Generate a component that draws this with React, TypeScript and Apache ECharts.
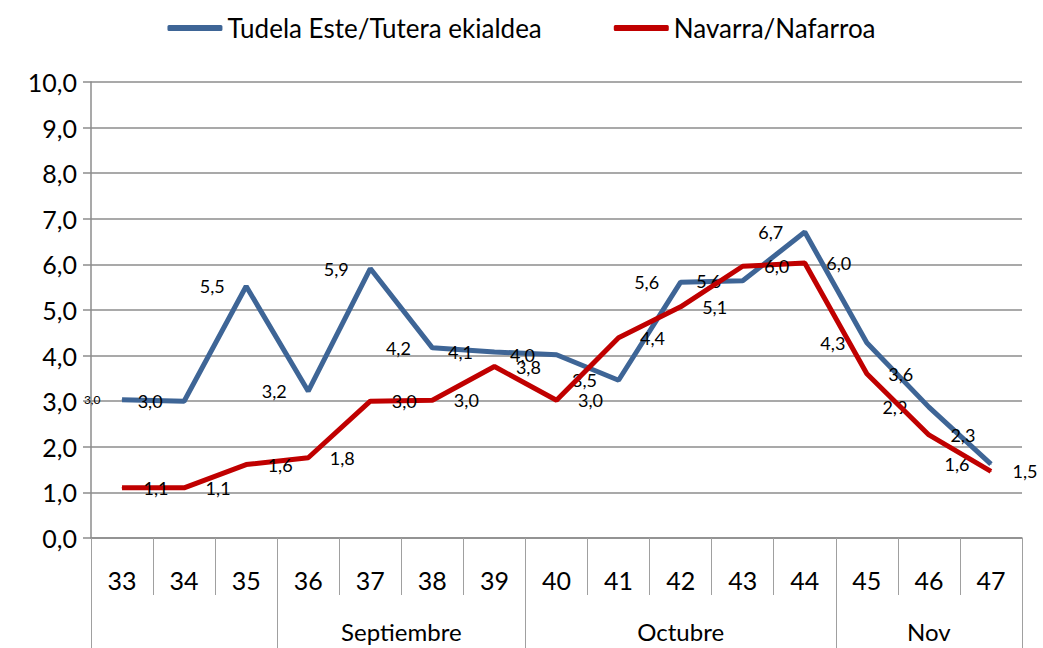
import React, { useEffect, useRef } from "react";
import * as echarts from "echarts";

const weeks = ["33", "34", "35", "36", "37", "38", "39", "40", "41", "42", "43", "44", "45", "46", "47"];
const tudela = [3.03, 3.0, 5.52, 3.22, 5.91, 4.17, 4.08, 4.02, 3.46, 5.61, 5.64, 6.71, 4.28, 2.87, 1.62];
const navarra = [1.1, 1.1, 1.61, 1.76, 3.0, 3.02, 3.76, 3.02, 4.39, 5.07, 5.96, 6.03, 3.6, 2.26, 1.46];
const monthNames = ["", "Septiembre", "Octubre", "Nov"];
const monthStarts = [0, 3, 7, 12, 15];
const yTicks = [0, 1, 2, 3, 4, 5, 6, 7, 8, 9, 10];

const FONT = "Lato";
const fmt = (v: number) => v.toFixed(1).replace(".", ",");

export default function App() {
  const ref = useRef<HTMLDivElement>(null);
  useEffect(() => {
    if (!ref.current) return;
    const chart = echarts.init(ref.current, null, { renderer: "svg" });
    const monthCenters = monthNames.map((_, i) => (monthStarts[i] + monthStarts[i + 1]) / 2);
    const blueData = tudela.map((v, i) => (i === 0 ? { value: v, label: { fontSize: 12 } } : v));
    chart.setOption({
      animation: false,
      textStyle: { fontFamily: FONT },
      legend: {
        top: 10,
        left: "center",
        icon: "roundRect",
        itemWidth: 55,
        itemHeight: 6,
        itemGap: 72,
        textStyle: { fontSize: 26, color: "#000", fontFamily: FONT },
        data: ["Tudela Este/Tutera ekialdea", "Navarra/Nafarroa"],
      },
      grid: { left: 91, right: 21, top: 82, bottom: 110, containLabel: false },
      xAxis: [
        {
          type: "category",
          data: weeks,
          boundaryGap: true,
          axisLine: { show: true, lineStyle: { color: "#8c8c8c", width: 1.5 } },
          axisTick: { show: true, interval: 0, length: 57, lineStyle: { color: "#a0a0a0" } },
          axisLabel: { interval: 0, margin: 29, fontSize: 25, color: "#000", fontFamily: FONT },
          splitLine: { show: false },
        },
        {
          type: "value",
          min: 0,
          max: 15,
          position: "bottom",
          axisLine: { show: false },
          splitLine: { show: false },
          axisTick: {
            show: true,
            customValues: monthStarts,
            length: 110,
            lineStyle: { color: "#a0a0a0" },
          },
          axisLabel: {
            customValues: monthCenters.filter((_, i) => monthNames[i] !== ""),
            margin: 81,
            fontSize: 24,
            color: "#000",
            fontFamily: FONT,
            formatter: (v: number) => {
              const idx = monthCenters.findIndex((c) => Math.abs(c - v) < 1e-6);
              return idx >= 0 ? monthNames[idx] : "";
            },
          },
        },
      ],
      yAxis: {
        type: "value",
        min: yTicks[0],
        max: yTicks[yTicks.length - 1],
        interval: 1,
        axisLine: { show: true, lineStyle: { color: "#8c8c8c", width: 1.5 } },
        axisTick: { show: true, length: 8, lineStyle: { color: "#8c8c8c", width: 1.5 } },
        axisLabel: { margin: 14, fontSize: 25, color: "#000", fontFamily: FONT, formatter: (v: number) => fmt(v) },
        splitLine: { show: true, lineStyle: { color: "#8c8c8c", width: 1.5 } },
      },
      series: [
        {
          name: "Tudela Este/Tutera ekialdea",
          type: "line",
          xAxisIndex: 0,
          data: blueData,
          symbol: "circle",
          symbolSize: 1,
          showSymbol: true,
          lineStyle: { color: "#3E6596", width: 5 },
          itemStyle: { color: "#3E6596" },
          label: {
            show: true,
            position: "left",
            distance: 21,
            fontSize: 18,
            color: "#000",
            fontFamily: FONT,
            formatter: (p: any) => fmt(p.value),
          },
          z: 2,
        },
        {
          name: "Navarra/Nafarroa",
          type: "line",
          xAxisIndex: 0,
          data: navarra,
          symbol: "circle",
          symbolSize: 1,
          showSymbol: true,
          lineStyle: { color: "#C00000", width: 5 },
          itemStyle: { color: "#C00000" },
          label: {
            show: true,
            position: "right",
            distance: 21,
            fontSize: 18,
            color: "#000",
            fontFamily: FONT,
            formatter: (p: any) => fmt(p.value),
          },
          z: 3,
        },
      ],
    });
    return () => chart.dispose();
  }, []);
  return (
    <div
      ref={ref}
      style={{ position: "fixed", left: 0, top: 0, width: 1043, height: 648, background: "#fff" }}
    />
  );
}
